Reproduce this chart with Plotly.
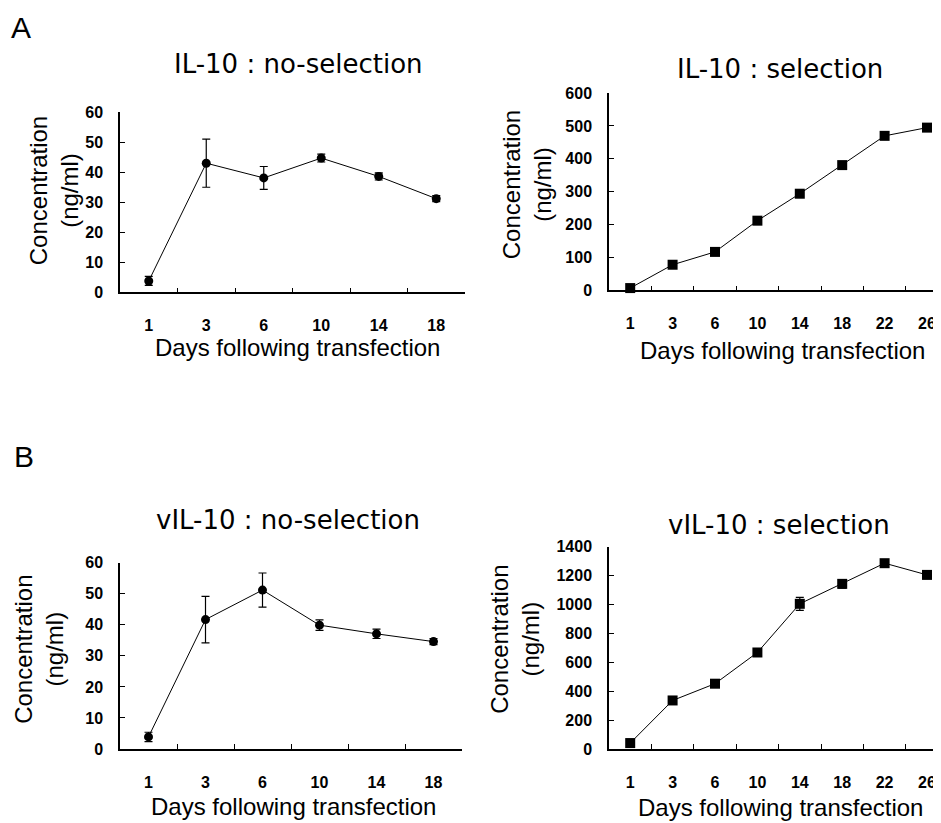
import plotly.graph_objects as go

W, H = 933, 823
X_OFF = 8          # horizontal page offset of the figure
Y_OFF, Y_SC = 17, 0.978   # empirical vertical mapping of figure pixels to picture pixels

days_6 = ["1", "3", "6", "10", "14", "18"]
days_8 = ["1", "3", "6", "10", "14", "18", "22", "26"]

il10_nosel = [3.8, 43.0, 38.1, 44.7, 38.6, 31.2]
il10_nosel_err = [1.5, 8.0, 3.8, 1.3, 1.2, 1.0]

il10_sel = [7, 78, 117, 212, 294, 381, 470, 495]
il10_sel_err = [6, 8, 8, 8, 7, 9, 8, 7]

vil10_nosel = [3.9, 41.7, 51.2, 39.9, 37.1, 34.6]
vil10_nosel_err = [1.5, 7.5, 5.5, 1.7, 1.5, 1.0]

vil10_sel = [41, 336, 452, 668, 1005, 1143, 1286, 1205]
vil10_sel_err = [25, 20, 20, 20, 45, 30, 20, 20]

titles = ["IL-10 : no-selection", "IL-10 : selection",
          "vIL-10 : no-selection", "vIL-10 : selection"]
xtitle = "Days following transfection"
ytitle = "Concentration<br>(ng/ml)"


def fx(p):
    return (p - X_OFF) / W


def fy(p):
    return 1 - ((p - Y_OFF) / Y_SC) / H


fig = go.Figure()

panels = [
    (days_6, il10_nosel, il10_nosel_err, "circle", 9, (120, 465), (293, 113), [0, 60], 10, [-0.5, 5.5]),
    (days_8, il10_sel, il10_sel_err, "square", 10, (609, 941), (291, 94), [0, 600], 100, [-0.5, 7.33]),
    (days_6, vil10_nosel, vil10_nosel_err, "circle", 9, (120, 462), (749, 563), [0, 60], 10, [-0.5, 5.5]),
    (days_8, vil10_sel, vil10_sel_err, "square", 10, (609, 941), (749, 547), [0, 1400], 200, [-0.5, 7.33]),
]

tickfont = dict(family="Liberation Sans, Arial, sans-serif", size=16, color="black", weight="bold")
layout = {}
for i, (xs, ys, es, sym, msz, xd, yd, yr, dt, xr) in enumerate(panels, start=1):
    sfx = "" if i == 1 else str(i)
    fig.add_trace(go.Scatter(
        x=xs, y=ys,
        error_y=dict(type="data", array=es, visible=True, color="black", thickness=1.2, width=4),
        mode="lines+markers",
        line=dict(color="black", width=1),
        marker=dict(symbol=sym, size=msz, color="black"),
        xaxis="x" + sfx, yaxis="y" + sfx, showlegend=False, cliponaxis=False,
    ))
    layout["xaxis" + sfx] = dict(
        type="category", domain=[fx(xd[0]), min(fx(xd[1]), 1.0)], anchor="y" + sfx,
        range=xr, tickson="boundaries", ticks="inside", ticklen=5, tickwidth=1,
        tickcolor="black", showline=True, linecolor="black", linewidth=1.5,
        showgrid=False, zeroline=False, tickfont=tickfont, ticklabelstandoff=18,
    )
    layout["yaxis" + sfx] = dict(
        domain=[fy(yd[0]), fy(yd[1])], anchor="x" + sfx, range=yr, dtick=dt,
        ticks="inside", ticklen=5, tickwidth=1, tickcolor="black",
        showline=True, linecolor="black", linewidth=1.5,
        showgrid=False, zeroline=False, tickfont=tickfont, ticklabelstandoff=12,
    )

fig.update_layout(**layout)

tfont = dict(family="DejaVu Sans, sans-serif", size=26, color="black")
afont = dict(family="Liberation Sans, Arial, sans-serif", size=24, color="black")

annots = []
for t, (cx, cy) in zip(titles, [(298, 65), (780, 70), (288, 520), (779, 525)]):
    annots.append(dict(text=t, x=fx(cx), y=fy(cy), xref="paper", yref="paper",
                       xanchor="center", yanchor="middle", showarrow=False, font=tfont))
for (cx, cy) in [(297, 348), (782, 351), (293, 806), (780, 807)]:
    annots.append(dict(text=xtitle, x=fx(cx), y=fy(cy), xref="paper", yref="paper",
                       xanchor="center", yanchor="middle", showarrow=False, font=afont))
for (cx, cy) in [(54, 192), (527, 186), (39, 650), (515, 640)]:
    annots.append(dict(text=ytitle, x=fx(cx), y=fy(cy), xref="paper", yref="paper",
                       xanchor="center", yanchor="middle", showarrow=False, font=afont,
                       textangle=-90))
for t, (cx, cy) in [("A", (21, 28)), ("B", (24, 457))]:
    annots.append(dict(text=t, x=fx(cx), y=fy(cy), xref="paper", yref="paper",
                       xanchor="center", yanchor="middle", showarrow=False,
                       font=dict(family="Liberation Sans, Arial, sans-serif", size=30, color="black")))

fig.update_layout(
    width=W, height=H, margin=dict(l=0, r=0, t=0, b=0),
    paper_bgcolor="white", plot_bgcolor="white", annotations=annots,
)

fig.write_html("out.html")
